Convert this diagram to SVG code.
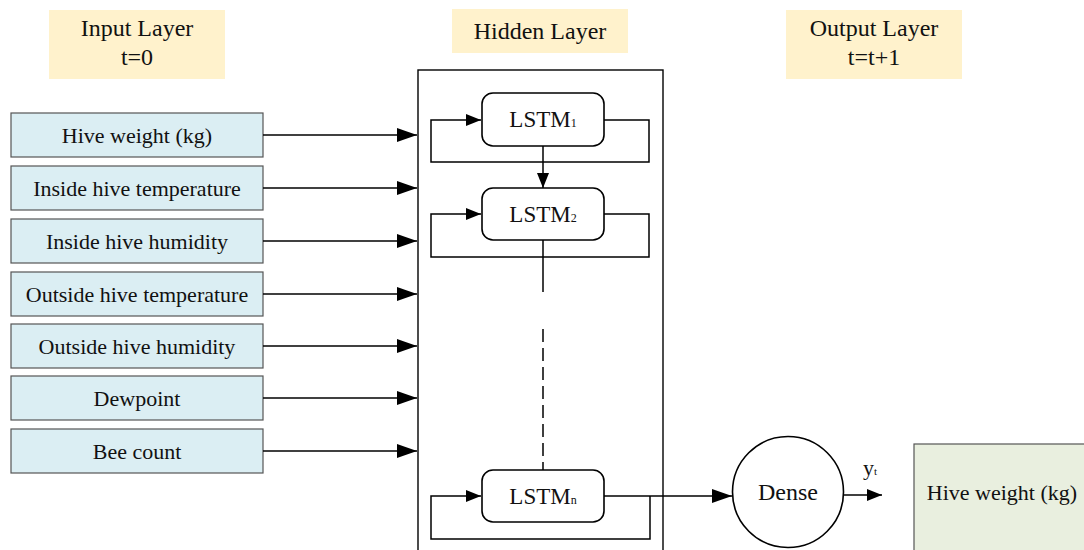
<svg xmlns="http://www.w3.org/2000/svg" width="1084" height="550" viewBox="0 0 1084 550">
  <defs>
    <marker id="arrowBig" markerUnits="userSpaceOnUse" markerWidth="21" markerHeight="14" refX="20" refY="7" orient="auto">
      <path d="M0,0 L20,7 L0,14 z" fill="#000"/>
    </marker>
    <marker id="arrowSmall" markerUnits="userSpaceOnUse" markerWidth="16" markerHeight="12" refX="15" refY="6" orient="auto">
      <path d="M0,0 L15,6 L0,12 z" fill="#000"/>
    </marker>
    <style>
      text { fill: #111; font-family: "Liberation Serif", "Times New Roman", Times, serif; }
      .hdr { fill: #fff2cc; stroke: none; }
      .hdrText { font-size: 24px; text-anchor: middle; }
      .inBox { fill: #dbeef3; stroke: #555; stroke-width: 1.2; }
      .inText { font-size: 22px; text-anchor: middle; }
      .lstm { fill: #fff; stroke: #000; stroke-width: 1.6; }
      .lstmText { font-size: 23px; text-anchor: middle; }
      .sub { font-size: 12px; }
      .wire { fill: none; stroke: #000; stroke-width: 1.5; }
      .bigArrow { marker-end: url(#arrowBig); }
      .smallArrow { marker-end: url(#arrowSmall); }
    </style>
  </defs>

  <!-- layer headings -->
  <g id="input-layer-label">
    <rect class="hdr" x="49" y="10" width="176" height="69"/>
    <text class="hdrText" x="137" y="36">Input Layer</text>
    <text class="hdrText" x="137" y="65">t=0</text>
  </g>
  <g id="hidden-layer-label">
    <rect class="hdr" x="452" y="9" width="176" height="44"/>
    <text class="hdrText" x="540" y="39">Hidden Layer</text>
  </g>
  <g id="output-layer-label">
    <rect class="hdr" x="786" y="10" width="176" height="69"/>
    <text class="hdrText" x="874" y="36">Output Layer</text>
    <text class="hdrText" x="874" y="65">t=t+1</text>
  </g>

  <!-- input features -->
  <g id="in-hive-weight">
    <rect class="inBox" x="11" y="113" width="252" height="44"/>
    <text class="inText" x="137" y="142.5">Hive weight (kg)</text>
  </g>
  <g id="in-inside-temp">
    <rect class="inBox" x="11" y="166" width="252" height="44"/>
    <text class="inText" x="137" y="195.5">Inside hive temperature</text>
  </g>
  <g id="in-inside-humidity">
    <rect class="inBox" x="11" y="219" width="252" height="44"/>
    <text class="inText" x="137" y="248.5">Inside hive humidity</text>
  </g>
  <g id="in-outside-temp">
    <rect class="inBox" x="11" y="272" width="252" height="44"/>
    <text class="inText" x="137" y="301.5">Outside hive temperature</text>
  </g>
  <g id="in-outside-humidity">
    <rect class="inBox" x="11" y="324" width="252" height="44"/>
    <text class="inText" x="137" y="353.5">Outside hive humidity</text>
  </g>
  <g id="in-dewpoint">
    <rect class="inBox" x="11" y="376" width="252" height="44"/>
    <text class="inText" x="137" y="405.5">Dewpoint</text>
  </g>
  <g id="in-bee-count">
    <rect class="inBox" x="11" y="429" width="252" height="44"/>
    <text class="inText" x="137" y="458.5">Bee count</text>
  </g>

  <!-- hidden layer container -->
  <g id="hidden-layer">
    <rect x="418" y="70" width="245" height="500" fill="none" stroke="#000" stroke-width="1.4"/>
  </g>

  <!-- LSTM cells -->
  <g id="lstm-1">
    <rect class="lstm" x="482" y="93" width="122" height="53" rx="11"/>
    <text class="lstmText" x="543" y="127">LSTM<tspan class="sub">1</tspan></text>
  </g>
  <g id="lstm-2">
    <rect class="lstm" x="482" y="188" width="122" height="52" rx="11"/>
    <text class="lstmText" x="543" y="221.5">LSTM<tspan class="sub">2</tspan></text>
  </g>
  <g id="lstm-n">
    <rect class="lstm" x="482" y="470" width="122" height="52" rx="11"/>
    <text class="lstmText" x="543" y="503.5">LSTM<tspan class="sub">n</tspan></text>
  </g>

  <!-- dense unit -->
  <g id="dense">
    <circle cx="788" cy="492" r="55.5" fill="#fff" stroke="#000" stroke-width="1.6"/>
    <text x="788" y="500" font-size="24" text-anchor="middle">Dense</text>
  </g>

  <!-- predicted output -->
  <g id="out-hive-weight">
    <rect x="914" y="444" width="180" height="120" fill="#e9efdf" stroke="#555" stroke-width="1.2"/>
    <text class="inText" x="1002" y="500">Hive weight (kg)</text>
  </g>

  <g id="output-label">
    <text x="863" y="475" font-size="22">y<tspan font-size="11">t</tspan></text>
  </g>

  <!-- connectors -->
  <g id="connectors">
    <path class="wire bigArrow" d="M263,135 H417"/>
    <path class="wire bigArrow" d="M263,188 H417"/>
    <path class="wire bigArrow" d="M263,241 H417"/>
    <path class="wire bigArrow" d="M263,294 H417"/>
    <path class="wire bigArrow" d="M263,346 H417"/>
    <path class="wire bigArrow" d="M263,398 H417"/>
    <path class="wire bigArrow" d="M263,451 H417"/>

    <path class="wire smallArrow" d="M604,120 H649 V162 H431 V120 H481"/>
    <path class="wire smallArrow" d="M543,146 V188"/>
    <path class="wire smallArrow" d="M604,214 H649 V257 H431 V214 H481"/>
    <path class="wire" d="M543,240 V292"/>
    <path class="wire" d="M543,329 V470" stroke-dasharray="13 6"/>
    <path class="wire smallArrow" d="M650,496 V539 H431 V496 H481"/>
    <path class="wire bigArrow" d="M604,496 H732"/>
    <path class="wire smallArrow" d="M844,495 H882"/>
  </g>
</svg>
